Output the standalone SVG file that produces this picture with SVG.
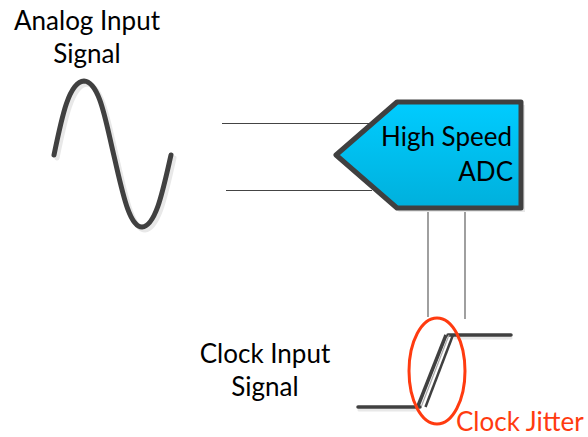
<svg xmlns="http://www.w3.org/2000/svg" width="588" height="437" viewBox="0 0 588 437">
<defs>
<linearGradient id="g" x1="0" y1="0" x2="0" y2="1"><stop offset="0" stop-color="#00ccff"/><stop offset="1" stop-color="#00b0dc"/></linearGradient>
</defs>
<style>
text{font-family:Lato,"Liberation Sans",sans-serif;font-size:26px;fill:#000}
.thin{fill:none;stroke:#444;stroke-width:1}
.gline{fill:none;stroke:#777;stroke-width:1.400}
.w{fill:none;stroke:#404040;stroke-width:5;stroke-linecap:round;stroke-linejoin:round}
.sh{fill:none;stroke:#e8e8e8;stroke-width:5;stroke-linecap:round;stroke-linejoin:round}
</style>
<rect width="588" height="437" fill="#fff"/>
<g id="connectors">
<path class="thin" d="M222 123.500H372"/>
<path class="thin" d="M226 190.500H372"/>
<path class="gline" d="M428 208V317"/>
<path class="gline" d="M465 208V319"/>
</g>
<g id="analog-label"><text x="87" y="30" text-anchor="middle">Analog Input</text><text x="87" y="63" text-anchor="middle">Signal</text></g>
<g id="sine">
<path class="sh" d="M55 157C63 118 70 84 85 83C101 84 107 125 115 158C123 192 130 229 143 229C157 228 164 192 172 157" transform="translate(2,1)"/>
<path class="w" d="M54 155C62 116 69 82 84 81C100 82 106 123 114 156C122 190 129 227 142 227C156 226 163 190 171 155"/>
</g>
<g id="adc">
<path d="M399 105L525 105V212L399 212L339 158Z" fill="#e8e8e8"/>
<path d="M397 102H521V208H397L336 155Z" fill="url(#g)" stroke="#404040" stroke-width="5" stroke-linejoin="round"/>
<text x="512" y="146" text-anchor="end">High Speed</text>
<text x="513" y="181" text-anchor="end">ADC</text>
</g>
<g id="clock-label"><text x="265" y="363" text-anchor="middle">Clock Input</text><text x="265" y="396" text-anchor="middle">Signal</text></g>
<g id="clock-wave">
<path class="sh" style="stroke-width:3" d="M359 408H416M455 336H511" transform="translate(0,2)"/>
<path class="w" style="stroke-width:3.500" d="M358 407H420M448 335H511"/>
<path fill="none" stroke="#404040" stroke-width="3.500" d="M418 406L446 335"/>
<path fill="none" stroke="#404040" stroke-width="2.500" d="M425.500 407L453 335"/>
<path fill="none" stroke="#a8a8a8" stroke-width="1.200" d="M421.500 406L449 335"/>
</g>
<g id="jitter">
<ellipse cx="437" cy="371" rx="28" ry="53" fill="none" stroke="#ff3b10" stroke-width="3"/>
<text x="456" y="431" style="fill:#ff3b10">Clock Jitter</text>
</g>
</svg>
